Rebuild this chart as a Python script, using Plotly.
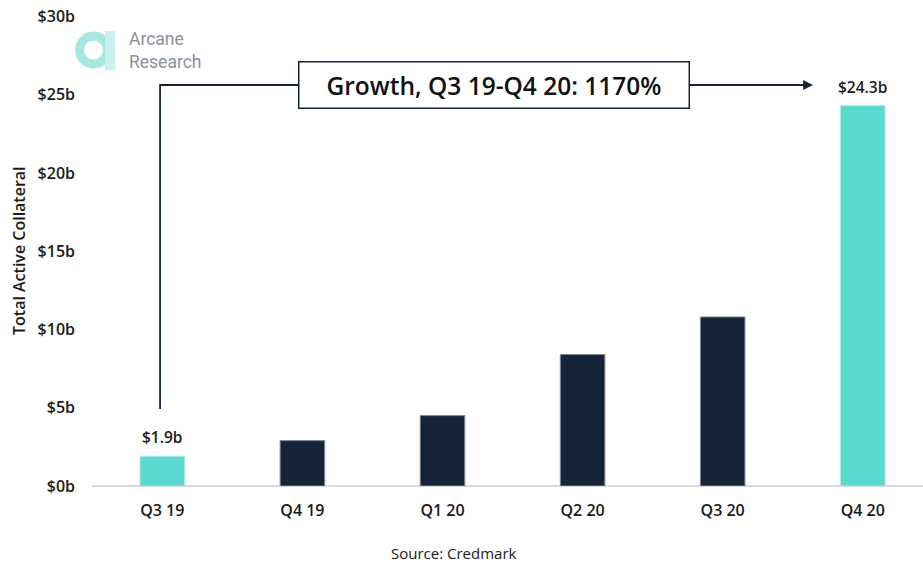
import plotly.graph_objects as go

# Quarterly totals, in billions of USD
quarters = ["Q3 19", "Q4 19", "Q1 20", "Q2 20", "Q3 20", "Q4 20"]
collateral = [1.9, 2.9, 4.5, 8.4, 10.8, 24.3]
highlight = [True, False, False, False, False, True]
tick_values = [0, 5, 10, 15, 20, 25, 30]
tick_labels = [f"${v}b" for v in tick_values]
growth_label = "Growth, Q3 19-Q4 20: 1170%"

NAVY = "#16243a"
TEAL = "#59d9cf"
FONT = "Open Sans"

W, H = 923, 564
M_L, M_R, M_T, M_B = 92, 0, 16, 78


def px_x(px):
    return (px - M_L) / (W - M_L - M_R)


def px_y(py):
    return (H - M_B - py) / (H - M_T - M_B)


fig = go.Figure()
fig.add_trace(go.Bar(
    x=quarters,
    y=collateral,
    width=0.318,
    marker=dict(
        color=[TEAL if h else NAVY for h in highlight],
        line=dict(color=["#a9ece6" if h else "#7d8796" for h in highlight], width=1),
    ),
    hoverinfo="skip",
))

# Value labels on the first and last quarter
for q, v, h in zip(quarters, collateral, highlight):
    if h:
        fig.add_annotation(
            x=q, y=v, text=f"${v}b", showarrow=False, yshift=19,
            font=dict(family=FONT, size=15.5, color="#1a1a1a", weight=600),
        )

# Elbow connector from the first bar to the last one
first_i, last_i = 0, len(quarters) - 1
elbow_y = 25.62
fig.add_shape(
    type="path",
    path=f"M {first_i - 0.016} 4.92 L {first_i - 0.016} {elbow_y} L {last_i - 0.42} {elbow_y}",
    xref="x", yref="y",
    line=dict(color=NAVY, width=1.8),
)
fig.add_annotation(
    x=last_i - 0.355, y=elbow_y, ax=last_i - 0.45, ay=elbow_y,
    xref="x", yref="y", axref="x", ayref="y",
    text="", showarrow=True, arrowhead=2, arrowsize=1.1, arrowwidth=1.8,
    arrowcolor=NAVY,
)
fig.add_annotation(
    x=px_x(494), y=elbow_y, xref="paper", yref="y",
    xanchor="center", yanchor="middle",
    text=growth_label, showarrow=False,
    width=389, height=45, borderpad=0,
    bgcolor="white", bordercolor=NAVY, borderwidth=1.5,
    font=dict(family=FONT, size=24.5, color="#111111", weight=600),
)

# Brand mark
fig.add_shape(
    type="circle", xref="paper", yref="paper",
    x0=px_x(79.5), x1=px_x(107.5), y0=px_y(64), y1=px_y(36),
    line=dict(color="#a4e8e1", width=9),
)
fig.add_shape(
    type="rect", xref="paper", yref="paper",
    x0=px_x(105), x1=px_x(115), y0=px_y(70), y1=px_y(31),
    line=dict(width=0), fillcolor="#c9f2ee",
)
fig.add_annotation(
    x=px_x(127), y=px_y(50), xref="paper", yref="paper",
    xanchor="left", yanchor="middle", align="left",
    text="Arcane<br>Research", showarrow=False,
    font=dict(family="Roboto", size=17.5, color="#8a909d"),
)

# Axis title and source note
fig.add_annotation(
    x=px_x(19), y=0.5, xref="paper", yref="paper", textangle=-90,
    xanchor="center", yanchor="middle",
    text="Total Active Collateral", showarrow=False,
    font=dict(family=FONT, size=16, color="#1a1a1a", weight=600),
)
fig.add_annotation(
    x=px_x(454), y=px_y(553), xref="paper", yref="paper",
    xanchor="center", yanchor="middle",
    text="Source: Credmark", showarrow=False,
    font=dict(family=FONT, size=15, color="#1a1a1a"),
)

fig.update_layout(
    width=W, height=H,
    margin=dict(l=M_L, r=M_R, t=M_T, b=M_B, autoexpand=False),
    paper_bgcolor="white", plot_bgcolor="white",
    showlegend=False,
    font=dict(family=FONT, color="#1a1a1a"),
    xaxis=dict(
        type="category", range=[-0.502, 5.43],
        showgrid=False, zeroline=False, showline=False,
        ticks="", ticklabelstandoff=13,
        tickfont=dict(family=FONT, size=16, color="#1a1a1a", weight=600),
    ),
    yaxis=dict(
        range=[0, 30.03], tickvals=tick_values, ticktext=tick_labels,
        showgrid=False, zeroline=True, zerolinecolor="#d9d9d9", zerolinewidth=1.5,
        showline=False, ticks="", ticklabelstandoff=16,
        tickfont=dict(family=FONT, size=16, color="#1a1a1a", weight=600),
    ),
)

fig.write_html("out.html")
